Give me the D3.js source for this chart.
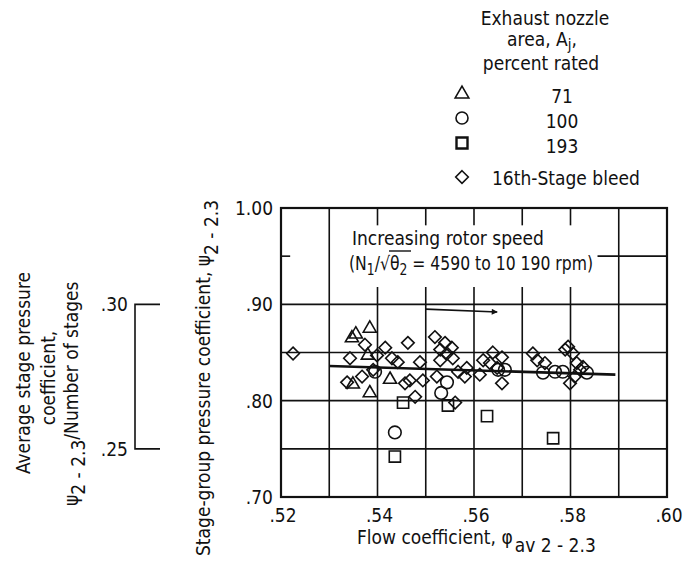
<!DOCTYPE html>
<html>
<head>
<meta charset="utf-8">
<script src="https://cdn.jsdelivr.net/npm/d3@7"></script>
<style>
    body { margin: 0; background: #fff; }
    text { font-family: "Liberation Sans Narrow", "DejaVu Sans Condensed", "Arial Narrow", sans-serif; fill: #111; }
</style>
</head>
<body>
<div id="chart"></div>
<script>
"use strict"

// Points: [flow coefficient, stage-group pressure coefficient]
var nozzle71 = [
    [0.5347, 0.866], [0.5355, 0.870], [0.5384, 0.876], [0.5380, 0.848],
    [0.5349, 0.818], [0.5384, 0.809], [0.5426, 0.823]
];
var nozzle100 = [
    [0.5395, 0.830], [0.5436, 0.767], [0.5532, 0.808], [0.5544, 0.819],
    [0.5650, 0.832], [0.5664, 0.832], [0.5743, 0.829], [0.5768, 0.830],
    [0.5784, 0.830], [0.5834, 0.829]
];
var nozzle193 = [
    [0.5453, 0.798], [0.5436, 0.742], [0.5546, 0.795], [0.5627, 0.784],
    [0.5764, 0.761]
];
var bleed16 = [
    [0.5225, 0.849], [0.5374, 0.858], [0.5343, 0.844], [0.5399, 0.847],
    [0.5416, 0.855], [0.5430, 0.844], [0.5442, 0.840], [0.5463, 0.860],
    [0.5488, 0.840], [0.5391, 0.832], [0.5368, 0.825], [0.5337, 0.819],
    [0.5457, 0.818], [0.5467, 0.821], [0.5494, 0.821], [0.5478, 0.804],
    [0.5519, 0.866], [0.5540, 0.860], [0.5554, 0.855], [0.5530, 0.853],
    [0.5544, 0.849], [0.5556, 0.844], [0.5530, 0.842], [0.5523, 0.825],
    [0.5567, 0.830], [0.5585, 0.834], [0.5581, 0.825], [0.5561, 0.798],
    [0.5619, 0.842], [0.5612, 0.827], [0.5633, 0.839], [0.5639, 0.850],
    [0.5658, 0.845], [0.5648, 0.834], [0.5658, 0.818], [0.5722, 0.849],
    [0.5731, 0.842], [0.5747, 0.839], [0.5789, 0.853], [0.5795, 0.856],
    [0.5805, 0.849], [0.5813, 0.839], [0.5820, 0.832], [0.5809, 0.825],
    [0.5799, 0.818], [0.5826, 0.835]
];
var fairedLine = [[0.5300, 0.836], [0.5893, 0.827]];
var speedArrow = [[0.5500, 0.8950], [0.5648, 0.892]];

var xTickLabels = [0.52, 0.54, 0.56, 0.58, 0.60];
var yTickLabels = [0.70, 0.80, 0.90, 1.00];
var xGrid = [0.53, 0.54, 0.55, 0.56, 0.57, 0.58, 0.59];
var yGrid = [0.75, 0.80, 0.85, 0.90, 0.95];
var avgTickLabels = [0.25, 0.30];
var legendLabels = ["71", "100", "193"];

var width = 684;
var height = 561;
var plot = { left: 281, right: 667, top: 208, bottom: 497 };
var fs = 19; // main font size
var fsSub = 15; // subscripts

var xScale = d3.scaleLinear().domain([0.52, 0.60]).range([plot.left, plot.right]);
var yScale = d3.scaleLinear().domain([0.70, 1.00]).range([plot.bottom, plot.top]);
// three stages per group: .25 -> .75 and .30 -> .90
var avgScale = d3.scaleLinear().domain([0.25, 0.30]).range([yScale(0.75), yScale(0.90)]);

var fmt = function (v) { return v >= 1 ? v.toFixed(2) : "." + v.toFixed(2).slice(2); };

var svg = d3.select("#chart").append("svg")
    .attr("width", width)
    .attr("height", height);

// Grid (lines are broken where the speed note sits)
var gap = { vx0: 0.535, vx1: 0.585, hx0: 0.5219, hx1: 0.5856, y0: 0.918, y1: 0.982 };
var grid = svg.append("g").attr("stroke", "#111").attr("stroke-width", 1.6);
xGrid.forEach(function (v) {
    if (v > gap.vx0 && v < gap.vx1) {
        grid.append("line").attr("x1", xScale(v)).attr("x2", xScale(v))
            .attr("y1", yScale(1.0)).attr("y2", yScale(gap.y1));
        grid.append("line").attr("x1", xScale(v)).attr("x2", xScale(v))
            .attr("y1", yScale(gap.y0)).attr("y2", yScale(0.70));
    } else {
        grid.append("line").attr("x1", xScale(v)).attr("x2", xScale(v))
            .attr("y1", yScale(1.0)).attr("y2", yScale(0.70));
    }
});
yGrid.forEach(function (v) {
    if (v > gap.y0 && v < gap.y1) {
        grid.append("line").attr("x1", xScale(0.52)).attr("x2", xScale(gap.hx0))
            .attr("y1", yScale(v)).attr("y2", yScale(v));
        grid.append("line").attr("x1", xScale(gap.hx1)).attr("x2", xScale(0.60))
            .attr("y1", yScale(v)).attr("y2", yScale(v));
    } else {
        grid.append("line").attr("x1", xScale(0.52)).attr("x2", xScale(0.60))
            .attr("y1", yScale(v)).attr("y2", yScale(v));
    }
});
svg.append("rect")
    .attr("x", xScale(0.52)).attr("y", yScale(1.0))
    .attr("width", xScale(0.60) - xScale(0.52))
    .attr("height", yScale(0.70) - yScale(1.0))
    .attr("fill", "none").attr("stroke", "#111").attr("stroke-width", 2.2);

// Tick labels
svg.append("g").selectAll("text").data(xTickLabels).enter().append("text")
    .attr("x", function (d) { return xScale(d) + 2; })
    .attr("y", yScale(0.70) + 25)
    .attr("text-anchor", "middle")
    .attr("font-size", fs)
    .text(fmt);
svg.append("g").selectAll("text").data(yTickLabels).enter().append("text")
    .attr("x", xScale(0.52) - 8)
    .attr("y", function (d) { return yScale(d) + 7; })
    .attr("text-anchor", "end")
    .attr("font-size", fs)
    .text(fmt);

// Faired line through the data
svg.append("path")
    .datum(fairedLine)
    .attr("fill", "none").attr("stroke", "#111").attr("stroke-width", 2.6)
    .attr("d", d3.line().x(function (d) { return xScale(d[0]); }).y(function (d) { return yScale(d[1]); }));

// Symbol shapes
function trianglePath(s) { return "M0," + (-s * 0.62) + "L" + (s * 0.62) + "," + (s * 0.45) + "L" + (-s * 0.62) + "," + (s * 0.45) + "Z"; }
function diamondPath(s) { return "M0," + (-s) + "L" + s + ",0L0," + s + "L" + (-s) + ",0Z"; }
function squarePath(s) { return "M" + (-s) + "," + (-s) + "H" + s + "V" + s + "H" + (-s) + "Z"; }

function drawPoints(data, shape) {
    var g = svg.append("g").attr("fill", "none").attr("stroke", "#111").attr("stroke-width", 1.6);
    var sel = g.selectAll(".pt").data(data).enter();
    if (shape === "circle") {
        sel.append("circle").attr("class", "pt")
            .attr("cx", function (d) { return xScale(d[0]); })
            .attr("cy", function (d) { return yScale(d[1]); })
            .attr("r", 6.3);
    } else {
        sel.append("path").attr("class", "pt")
            .attr("transform", function (d) { return "translate(" + xScale(d[0]) + "," + yScale(d[1]) + ")"; })
            .attr("d", shape);
    }
}
drawPoints(bleed16, diamondPath(6.3));
drawPoints(nozzle71, trianglePath(10.5));
drawPoints(nozzle100, "circle");
drawPoints(nozzle193, squarePath(5.6));

// Speed note and arrow
svg.append("text").attr("font-size", fs)
    .attr("x", 352).attr("y", 245)
    .text("Increasing rotor speed");
var l2 = svg.append("text").attr("font-size", fs)
    .attr("x", 349).attr("y", 270)
    .attr("textLength", 244).attr("lengthAdjust", "spacingAndGlyphs");
l2.append("tspan").text("(N");
l2.append("tspan").attr("dy", 5).attr("font-size", fsSub).text("1");
l2.append("tspan").attr("dy", -5).text("/\u221A\u03B8");
l2.append("tspan").attr("dy", 5).attr("font-size", fsSub).text("2");
l2.append("tspan").attr("dy", -5).text(" = 4590 to 10 190 rpm)");
// overbar of the root sign
svg.append("line").attr("x1", 389).attr("x2", 411).attr("y1", 251).attr("y2", 251)
    .attr("stroke", "#111").attr("stroke-width", 1.4);

svg.append("defs").append("marker")
    .attr("id", "head").attr("viewBox", "0 0 10 10")
    .attr("refX", 9).attr("refY", 5)
    .attr("markerWidth", 10).attr("markerHeight", 6)
    .attr("markerUnits", "userSpaceOnUse")
    .attr("orient", "auto")
    .append("path").attr("d", "M0,0L10,5L0,10Z").attr("fill", "#111");
svg.append("line")
    .attr("x1", xScale(speedArrow[0][0])).attr("y1", yScale(speedArrow[0][1]))
    .attr("x2", xScale(speedArrow[1][0])).attr("y2", yScale(speedArrow[1][1]))
    .attr("stroke", "#111").attr("stroke-width", 1.6)
    .attr("marker-end", "url(#head)");

// Axis titles
var xt = svg.append("text").attr("font-size", fs).attr("x", 357).attr("y", 544);
xt.append("tspan").text("Flow coefficient,  \u03C6");
xt.append("tspan").attr("dy", 8).attr("dx", 2).text("av 2 - 2.3");

var yt = svg.append("text").attr("font-size", fs)
    .attr("transform", "translate(210,556) rotate(-90)");
yt.append("tspan").text("Stage-group pressure coefficient,  \u03C8");
yt.append("tspan").attr("dy", 8).text("2 - 2.3");

// Average stage pressure coefficient scale on the left
var ag = svg.append("g");
ag.append("path")
    .attr("d", "M160," + avgScale(0.30) + "H135V" + avgScale(0.25) + "H160")
    .attr("fill", "none").attr("stroke", "#111").attr("stroke-width", 1.6);
ag.selectAll("text").data(avgTickLabels).enter().append("text")
    .attr("x", 128)
    .attr("y", function (d) { return avgScale(d) + 7; })
    .attr("text-anchor", "end")
    .attr("font-size", fs)
    .text(fmt);

svg.append("text").attr("font-size", fs).attr("text-anchor", "middle")
    .attr("transform", "translate(30,373) rotate(-90)").text("Average stage pressure");
svg.append("text").attr("font-size", fs).attr("text-anchor", "middle")
    .attr("transform", "translate(55,378) rotate(-90)").text("coefficient,");
var at3 = svg.append("text").attr("font-size", fs)
    .attr("transform", "translate(78,506) rotate(-90)");
at3.append("tspan").text("\u03C8");
at3.append("tspan").attr("dy", 7).text("2 - 2.3");
at3.append("tspan").attr("dy", -7).text("/Number of stages");

// Legend
var legend = svg.append("g");
legend.append("text").attr("font-size", fs).attr("text-anchor", "middle")
    .attr("x", 545).attr("y", 25).text("Exhaust nozzle");
var aj = legend.append("text").attr("font-size", fs).attr("text-anchor", "middle")
    .attr("x", 542).attr("y", 46);
aj.append("tspan").text("area, A");
aj.append("tspan").attr("dy", 4).attr("font-size", fsSub).text("j");
aj.append("tspan").attr("dy", -4).text(",");
legend.append("text").attr("font-size", fs).attr("text-anchor", "middle")
    .attr("x", 541).attr("y", 70).text("percent rated");

var legendShapes = [trianglePath(11), "circle", squarePath(5.5)];
legendLabels.forEach(function (lab, i) {
    var cy = 93 + i * 25;
    if (legendShapes[i] === "circle") {
        legend.append("circle").attr("cx", 462).attr("cy", cy).attr("r", 6)
            .attr("fill", "none").attr("stroke", "#111").attr("stroke-width", 1.6);
    } else {
        legend.append("path").attr("transform", "translate(462," + cy + ")")
            .attr("d", legendShapes[i])
            .attr("fill", "none").attr("stroke", "#111").attr("stroke-width", i === 2 ? 2.4 : 1.6);
    }
    legend.append("text").attr("font-size", fs).attr("text-anchor", "middle")
        .attr("x", 562).attr("y", cy + 10).text(lab);
});
legend.append("path").attr("transform", "translate(462,177)").attr("d", diamondPath(6.3))
    .attr("fill", "none").attr("stroke", "#111").attr("stroke-width", 1.6);
legend.append("text").attr("font-size", fs).attr("x", 492).attr("y", 185).text("16th-Stage bleed");
</script>
</body>
</html>
